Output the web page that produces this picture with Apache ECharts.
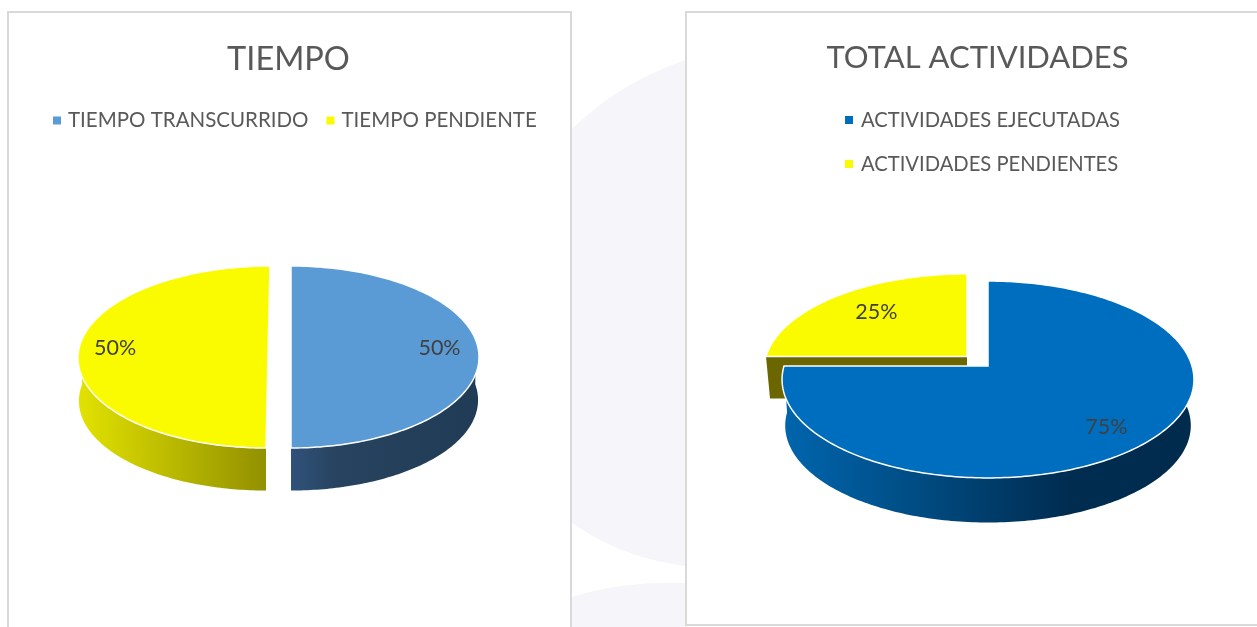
<!DOCTYPE html>
<html><head><meta charset="utf-8">
<style>html,body{margin:0;padding:0;background:#fff}#c{width:1257px;height:627px}</style>
<script src="https://cdn.jsdelivr.net/npm/echarts@6/dist/echarts.min.js"></script>
</head><body><div id="c"></div>
<script>
// DATA
const tiempoTitulo = 'TIEMPO';
const tiempoCategorias = ['TIEMPO TRANSCURRIDO', 'TIEMPO PENDIENTE'];
const tiempoValores = [50, 50];
const actividadesTitulo = 'TOTAL ACTIVIDADES';
const actividadesCategorias = ['ACTIVIDADES EJECUTADAS', 'ACTIVIDADES PENDIENTES'];
const actividadesValores = [75, 25];

// STYLE (pseudo-3D projection of each slice)
const FONT = 'Lato';
const grad = (x, x2, stops) => ({type:'linear', x, y:0, x2, y2:0, global:true,
  colorStops: stops.map(s => ({offset:s[0], color:s[1]}))});
const styles = {
  [tiempoCategorias[0]]: {ax:291, ay:357, R:188, K:91, c:0, shear:0, depth:43, scale:.995,
    top:'#5B9BD5', wall:grad(291,479,[[0,'#30517a'],[.25,'#27435f'],[1,'#1f3b55']]),
    labelR:.79, labelDy:-9},
  [tiempoCategorias[1]]: {ax:268, ay:357, R:190, K:91, c:0, shear:-.022, depth:43, scale:.995,
    top:'#FBFB00', wall:grad(78,266,[[0,'#e2e200'],[1,'#929000']]),
    labelR:.805, labelDy:-9},
  [actividadesCategorias[0]]: {ax:988, ay:366, R:204, K:96.6, c:-.137, shear:0, depth:46.5, scale:.985,
    top:'#006EBE', wall:grad(785,1190,[[0,'#0065ad'],[.35,'#004a80'],[.7,'#002c50'],[1,'#002b4d']]),
    labelR:.76, labelDy:5},
  [actividadesCategorias[1]]: {ax:967, ay:356.5, R:201, K:94, c:-.137, shear:0, depth:42, scale:.98,
    top:'#FBFB00', cut:'#6B6600', noRim:true,
    labelR:.68, labelDy:-2}
};
const FRONT = [80, 280];

function project(s, deg, r, lower) {
  const t = deg * Math.PI / 180, f = lower ? s.scale : 1;
  const u = Math.sin(t) * r * f, v = -Math.cos(t) * r * f;
  const d = 1 + s.c * v, dy = s.K * v / d;
  return [s.ax + s.R * u / d + s.shear * dy, s.ay + dy + (lower ? s.depth : 0)];
}
function arc(s, a, b, lower) {
  const pts = [], n = Math.max(2, Math.ceil(Math.abs(b - a)));
  for (let i = 0; i <= n; i++) pts.push(project(s, a + (b - a) * i / n, 1, lower));
  return pts;
}
function makeSeries(cats, vals, order) {
  const total = vals.reduce((x, y) => x + y, 0);
  return order.map(i => {
    const before = vals.slice(0, i).reduce((x, y) => x + y, 0);
    const s = styles[cats[i]];
    return {
      type:'custom', name:cats[i], coordinateSystem:'none', silent:true, clip:false,
      itemStyle:{color:s.top},
      data:[[vals[i]]],
      renderItem(params, api) {
        const a0 = before / total * 360, a1 = a0 + api.value(0) / total * 360;
        const children = [];
        if (s.cut) {
          const apexTop = project(s, 0, 0, false), apexLow = [apexTop[0], apexTop[1] + s.depth];
          children.push({type:'polygon', shape:{points:[apexTop, project(s, a0, 1, false), project(s, a0, 1, true), apexLow]},
            style:{fill:s.cut}});
        }
        const w0 = Math.max(a0, FRONT[0]), w1 = Math.min(a1, FRONT[1]);
        if (!s.noRim && w1 > w0) {
          children.push({type:'polygon', shape:{points:arc(s, w0, w1, false).concat(arc(s, w1, w0, true))},
            style:{fill:s.wall}});
        }
        children.push({type:'polygon', shape:{points:[project(s, 0, 0, false)].concat(arc(s, a0, a1, false))},
          style:{fill:s.top, stroke:'#fff', lineWidth:1.5, lineJoin:'miter'}});
        const lp = project(s, (a0 + a1) / 2, s.labelR, false);
        children.push({type:'text', style:{x:lp[0], y:lp[1] + s.labelDy, text:api.value(0) / total * 100 + '%',
          fill:'#404040', font:'21.5px ' + FONT, align:'center', verticalAlign:'middle'}});
        return {type:'group', children};
      }
    };
  });
}
// pale backdrop shapes between the two panels
function quad(p0, p1, p2) {
  const out = [];
  for (let i = 0; i <= 24; i++) { const t = i / 24, m = 1 - t;
    out.push([m*m*p0[0] + 2*m*t*p1[0] + t*t*p2[0], m*m*p0[1] + 2*m*t*p1[1] + t*t*p2[1]]); }
  return out;
}
const titleText = size => ({color:'#595959', fontFamily:FONT, fontWeight:'normal', fontSize:size});
const option = {
  animation:false,
  backgroundColor:'#fff',
  graphic:[
    {type:'polygon', z:-10, silent:true, shape:{points:quad([572,129],[622,81],[686,60]).concat(quad([686,566],[622,558],[572,523]))}, style:{fill:'#F5F5FA'}},
    {type:'polygon', z:-10, silent:true, shape:{points:quad([572,597],[622,581],[686,583]).concat([[686,627],[572,627]])}, style:{fill:'#F5F5FA'}},
    {type:'rect', z:-5, silent:true, shape:{x:8, y:12, width:563, height:640}, style:{fill:'#fff', stroke:'#D9D9D9', lineWidth:2}},
    {type:'rect', z:-5, silent:true, shape:{x:686, y:12, width:600, height:613}, style:{fill:'#fff', stroke:'#D9D9D9', lineWidth:2}}
  ],
  title:[
    {text:tiempoTitulo, left:283.5, top:38, textAlign:'center', textStyle:titleText(32.5)},
    {text:actividadesTitulo, left:972.5, top:37, textAlign:'center', textStyle:titleText(31)}
  ],
  legend:[
    {data:tiempoCategorias, left:48, top:105, orient:'horizontal', icon:'rect', itemWidth:8, itemHeight:8, itemGap:18,
      textStyle:{color:'#595959', fontFamily:FONT, fontSize:20.5, padding:[0,0,0,2]}, selectedMode:false},
    {data:actividadesCategorias, left:840, top:105, orient:'vertical', align:'left', icon:'rect', itemWidth:8, itemHeight:8, itemGap:24,
      textStyle:{color:'#595959', fontFamily:FONT, fontSize:20.2, padding:[0,0,0,3]}, selectedMode:false}
  ],
  series:[].concat(
    makeSeries(tiempoCategorias, tiempoValores, [0, 1]),
    makeSeries(actividadesCategorias, actividadesValores, [1, 0])
  )
};
const chart = echarts.init(document.getElementById('c'), null, {renderer:'canvas'});
chart.setOption(option);
</script></body></html>
